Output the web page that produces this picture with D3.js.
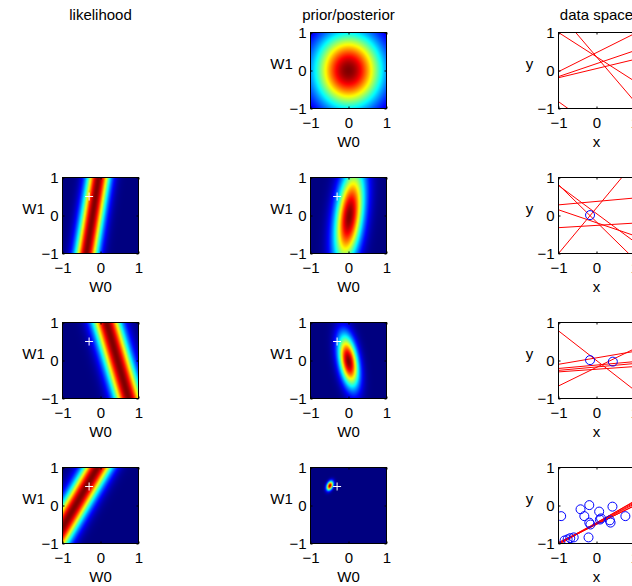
<!DOCTYPE html>
<html><head><meta charset="utf-8">
<script src="https://cdn.jsdelivr.net/npm/d3@7"></script>
<style>
body{margin:0;background:#fff}
svg{display:block}
text{font-family:"Liberation Sans",Arial,Helvetica,sans-serif;font-size:15px;fill:#000}
</style>
</head><body><svg id="c" width="632" height="586"></svg>
<script>
// ---------- data ----------
const columnTitles = ["likelihood", "prior/posterior", "data space"];
const tickValues = [-1, 0, 1];
const trueW = [-0.3, 0.5];               // white cross (w0, w1)

// likelihood bands (rows 2..4): ridge w0 = a + b*w1, sd s along w0
const likA = [-0.21, 0.45, -0.66];
const likB = [0.16, -0.29, 0.58];
const likS = [0.21, 0.26, 0.27];

// prior / posterior gaussians (rows 1..4): mean (m0,m1), w0|w1 slope b, sds
const postM0 = [0.00, 0.02, 0.00, -0.49];
const postM1 = [0.00, -0.02, -0.02, 0.52];
const postB  = [0.00, 0.12, -0.15, 0.25];
const postS0 = [0.62, 0.25, 0.17, 0.055];
const postS1 = [0.70, 0.88, 0.47, 0.082];

// sampled lines y = w0 + w1*x for each row (w0, w1)
const lines1 = [[0.36,-0.64],[0.36,-1.17],[0.47,0.50],[0.18,0.34],[0.05,0.24],[-1.54,-0.72]];
const lines2 = [[-0.17,-0.98],[0.05,-0.74],[0.20,1.20],[0.37,0.09],[-0.19,-0.34],[-0.26,0.06]];
const lines3 = [[0.00,-0.78],[-0.18,0.49],[0.07,0.17],[-0.12,0.09],[-0.17,0.09],[-0.23,0.07]];
const lines4 = [[-0.46,0.58],[-0.50,0.50],[-0.47,0.54],[-0.49,0.48],[-0.45,0.55],[-0.48,0.52]];

// observed points (x, t)
const points1 = [];
const points2 = [[-0.17, 0.01]];
const points3 = [[-0.17, 0.01], [0.43, -0.03]];
const points4 = [[-0.93,-0.28],[-0.84,-0.92],[-0.76,-0.89],[-0.69,-0.86],[-0.60,-0.84],
                 [-0.42,-0.10],[-0.32,-0.28],[-0.19,0.01],[-0.19,-0.45],[-0.16,-0.50],
                 [-0.21,-0.84],[0.07,-0.16],[0.09,-0.37],[0.12,-0.34],[0.35,-0.39],
                 [0.37,-0.45],[0.42,-0.03],[0.76,-0.28]];

const rowLines = [lines1, lines2, lines3, lines4];
const rowPoints = [points1, points2, points3, points4];

// ---------- layout ----------
const colLeft = [62.5, 310.5, 558.5];
const rowTop = [32.5, 177.5, 322.5, 467.5];
const S = 76;

const svg = d3.select("#c");
const defs = svg.append("defs");

function jet(v) {
  const c = x => Math.max(0, Math.min(1, x));
  const r = c(Math.min(4*v - 1.5, -4*v + 4.5));
  const g = c(Math.min(4*v - 0.5, -4*v + 3.5));
  const b = c(Math.min(4*v + 0.5, -4*v + 2.5));
  return [r*255, g*255, b*255];
}
const color = d3.scaleSequential(jet).domain([0, 1]);

columnTitles.forEach((t, i) => {
  svg.append("text").attr("x", colLeft[i] + S/2).attr("y", 20)
    .attr("text-anchor", "middle").text(t);
});

let clipId = 0;
function panel(col, row, xlabel, ylabel) {
  const x = d3.scaleLinear().domain([-1, 1]).range([colLeft[col], colLeft[col] + S]);
  const y = d3.scaleLinear().domain([-1, 1]).range([rowTop[row] + S, rowTop[row]]);
  const g = svg.append("g");
  const id = "clip" + (clipId++);
  defs.append("clipPath").attr("id", id).append("rect")
    .attr("x", x(-1)).attr("y", y(1)).attr("width", x(1) - x(-1)).attr("height", y(-1) - y(1));
  const content = g.append("g").attr("clip-path", `url(#${id})`);
  return {x, y, g, content, xlabel, ylabel};
}

function finishAxes(p) {
  const {x, y, g} = p;
  const fmt = d3.format("d");
  const bottom = g.append("g").attr("transform", `translate(0,${y(-1)})`)
    .call(d3.axisBottom(x).tickValues(tickValues).tickFormat(fmt).tickSize(-2).tickPadding(9));
  const left = g.append("g").attr("transform", `translate(${x(-1)},0)`)
    .call(d3.axisLeft(y).tickValues(tickValues).tickFormat(fmt).tickSize(-2).tickPadding(4));
  const top = g.append("g").attr("transform", `translate(0,${y(1)})`)
    .call(d3.axisTop(x).tickValues(tickValues).tickFormat("").tickSize(-2));
  const right = g.append("g").attr("transform", `translate(${x(1)},0)`)
    .call(d3.axisRight(y).tickValues(tickValues).tickFormat("").tickSize(-2));
  [bottom, left, top, right].forEach(a => {
    a.select(".domain").remove();
    a.selectAll("text").style("font-size", "15px");
    a.selectAll("line").attr("stroke", "#000");
    a.attr("font-size", null).attr("font-family", null);
  });
  g.append("rect").attr("x", x(-1)).attr("y", y(1))
    .attr("width", x(1) - x(-1)).attr("height", y(-1) - y(1))
    .attr("fill", "none").attr("stroke", "#000").attr("stroke-width", 1);
  g.append("text").attr("x", (x(-1) + x(1))/2).attr("y", y(-1) + 38)
    .attr("text-anchor", "middle").text(p.xlabel);
  g.append("text").attr("x", x(-1) - 29).attr("y", y(0) - 2)
    .attr("text-anchor", "middle").text(p.ylabel);
}

function heat(p, fn) {
  const {x, y, content} = p;
  const n = S;
  const cv = document.createElement("canvas");
  cv.width = n; cv.height = n;
  const ctx = cv.getContext("2d");
  const img = ctx.createImageData(n, n);
  for (let j = 0; j < n; j++) {
    for (let i = 0; i < n; i++) {
      const w0 = x.invert(x(-1) + (i + 0.5) * (x(1) - x(-1)) / n);
      const w1 = y.invert(y(1) + (j + 0.5) * (y(-1) - y(1)) / n);
      const c = color(fn(w0, w1));
      const k = (j*n + i) * 4;
      img.data[k] = c[0]; img.data[k+1] = c[1]; img.data[k+2] = c[2]; img.data[k+3] = 255;
    }
  }
  ctx.putImageData(img, 0, 0);
  content.append("image").attr("href", cv.toDataURL())
    .attr("x", x(-1)).attr("y", y(1))
    .attr("width", x(1) - x(-1)).attr("height", y(-1) - y(1))
    .attr("preserveAspectRatio", "none");
}

function cross(p) {
  const {x, y, content} = p;
  const cx = x(trueW[0]), cy = y(trueW[1]);
  content.append("path").attr("d", `M${cx-4},${cy}H${cx+4}M${cx},${cy-4}V${cy+4}`)
    .attr("stroke", "#fff").attr("stroke-width", 1).attr("fill", "none");
}

for (let r = 0; r < 4; r++) {
  if (r > 0) {
    const p = panel(0, r, "W0", "W1");
    const a = likA[r-1], b = likB[r-1], s = likS[r-1];
    heat(p, (w0, w1) => Math.exp(-Math.pow(w0 - a - b*w1, 2) / (2*s*s)));
    cross(p);
    finishAxes(p);
  }
  {
    const p = panel(1, r, "W0", "W1");
    const m0 = postM0[r], m1 = postM1[r], b = postB[r], s0 = postS0[r], s1 = postS1[r];
    heat(p, (w0, w1) => Math.exp(-Math.pow(w1 - m1, 2) / (2*s1*s1)
                                  - Math.pow(w0 - m0 - b*(w1 - m1), 2) / (2*s0*s0)));
    if (r > 0) cross(p);
    finishAxes(p);
  }
  {
    const p = panel(2, r, "x", "y");
    const line = d3.line().x(d => p.x(d[0])).y(d => p.y(d[1]));
    p.content.selectAll("path.samp").data(rowLines[r]).join("path")
      .attr("class", "samp")
      .attr("d", w => line([[-1, w[0] - w[1]], [1, w[0] + w[1]]]))
      .attr("stroke", "#ff0000").attr("stroke-width", 1).attr("fill", "none");
    p.content.selectAll("circle").data(rowPoints[r]).join("circle")
      .attr("cx", d => p.x(d[0])).attr("cy", d => p.y(d[1])).attr("r", 4.5)
      .attr("fill", "none").attr("stroke", "#0000ff").attr("stroke-width", 1);
    finishAxes(p);
  }
}
</script>
</body></html>
